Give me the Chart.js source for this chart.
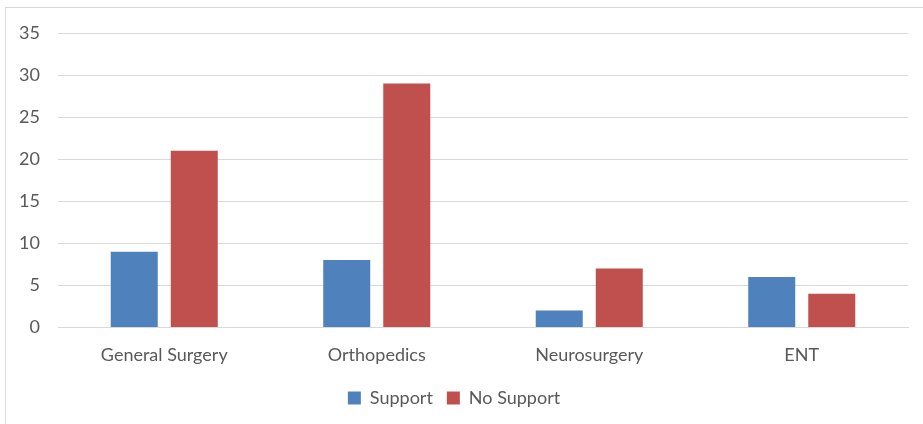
<!DOCTYPE html>
<html>
<head>
<meta charset="utf-8">
<script src="https://cdn.jsdelivr.net/npm/chart.js@4/dist/chart.umd.min.js"></script>
<style>
  html, body { margin: 0; padding: 0; background: #fff; }
  #wrap { position: relative; width: 923px; height: 424px; overflow: hidden; }
  #frame { position: absolute; left: 5px; top: 7px; width: 940px; height: 440px; border: 1px solid #d9d9d9; }
  canvas { position: absolute; left: 0; top: 0; }
</style>
</head>
<body>
<div id="wrap">
  <div id="frame"></div>
  <canvas id="chart" width="923" height="424"></canvas>
</div>
<script>
// departments and responses
const categories = ['General Surgery', 'Orthopedics', 'Neurosurgery', 'ENT'];
const supportValues = [9, 8, 2, 6];
const noSupportValues = [21, 29, 7, 4];
const yTicks = [0, 5, 10, 15, 20, 25, 30, 35];

const gridColor = '#d9d9d9';
const textColor = '#595959';
const fontFamily = 'Lato, "Open Sans", sans-serif';

const ctx = document.getElementById('chart').getContext('2d');
new Chart(ctx, {
  type: 'bar',
  data: {
    labels: categories,
    datasets: [
      {
        label: 'Support',
        data: supportValues,
        backgroundColor: '#4f81bd',
        barPercentage: 0.783,
        categoryPercentage: 0.565
      },
      {
        label: 'No Support',
        data: noSupportValues,
        backgroundColor: '#c0504d',
        barPercentage: 0.783,
        categoryPercentage: 0.565
      }
    ]
  },
  options: {
    responsive: false,
    animation: false,
    layout: { padding: { left: 0, right: 15, top: 33, bottom: 7 } },
    plugins: {
      tooltip: { enabled: false },
      legend: {
        position: 'bottom',
        labels: {
          color: textColor,
          font: { family: fontFamily, size: 18 },
          boxWidth: 13,
          boxHeight: 13,
          padding: 14
        }
      }
    },
    scales: {
      x: {
        grid: { display: false },
        border: { display: true, color: gridColor },
        ticks: { color: textColor, font: { family: fontFamily, size: 18 }, padding: 9 }
      },
      y: {
        min: 0,
        max: 35,
        afterBuildTicks: (axis) => { axis.ticks = yTicks.map(v => ({ value: v })); },
        afterFit: (axis) => { axis.width = 58; },
        grid: { color: gridColor, drawTicks: false },
        border: { display: false },
        ticks: { color: textColor, font: { family: fontFamily, size: 18 }, padding: 18 }
      }
    }
  }
});
</script>
</body>
</html>
